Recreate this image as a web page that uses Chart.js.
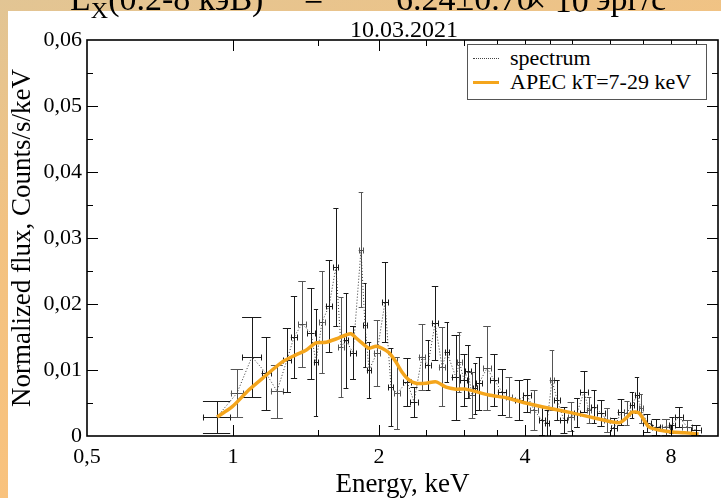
<!DOCTYPE html>
<html>
<head>
<meta charset="utf-8">
<script src="https://cdn.jsdelivr.net/npm/chart.js@4.4.1/dist/chart.umd.min.js"></script>
<style>
  html, body { margin: 0; padding: 0; }
  body {
    width: 721px; height: 498px; overflow: hidden; position: relative;
    background: linear-gradient(165deg, #e2c594 0%, #f3c281 35%, #fdc27a 100%);
    font-family: 'Liberation Serif', 'DejaVu Serif', serif;
  }
  #panel { position: absolute; left: 8px; top: 11px; right: 0; bottom: 0; background: #fff; }
  #chart { position: absolute; left: 0; top: 0; }
  .head { position: absolute; font-size: 34px; line-height: 1; color: #000; white-space: nowrap; top: -18px; }
  #date { position: absolute; left: 0; width: 808px; text-align: center; top: 17px; font-size: 24px; line-height: 1; }
  #legend {
    position: absolute; left: 467px; top: 44px; width: 238px; height: 54px;
    border: 1px solid #555; background: #fff; font-size: 22px;
  }
  .row { position: absolute; left: 0; right: 0; height: 24px; }
  .row span.txt { position: absolute; left: 42px; top: 0; line-height: 24px; }
  .row span.smp { position: absolute; left: 5px; width: 26px; top: 12px; }
</style>
</head>
<body>
<div id="panel"></div>
<canvas id="chart" width="721" height="498"></canvas>
<div class="head" style="left:70px">L<sub style="font-size:24px">X</sub>(0.2-8 кэВ)</div>
<div class="head" style="left:304px">=</div>
<div class="head" style="left:396px">6.24±0.70</div>
<div class="head" style="left:527px">× 10<sup style="font-size:22px">31</sup></div>
<div class="head" style="left:596px">эрг/с</div>
<div id="date">10.03.2021</div>
<div id="legend">
  <div class="row" style="top:1px"><span class="smp" style="border-top:1px dotted #444"></span><span class="txt">spectrum</span></div>
  <div class="row" style="top:25px"><span class="smp" style="border-top:3px solid #f4a51c;top:11px"></span><span class="txt">APEC kT=7-29 keV</span></div>
</div>
<script>
// Spectrum bins (keV, half width, counts/s/keV, error)
const energy = [0.927, 1.019, 1.094, 1.170, 1.232, 1.292, 1.336, 1.388, 1.448, 1.483,
  1.526, 1.578, 1.630, 1.670, 1.710, 1.768, 1.836, 1.871, 1.908, 1.981,
  2.058, 2.117, 2.178, 2.285, 2.362, 2.453, 2.524, 2.610, 2.698, 2.76,
  2.882, 2.93, 2.994, 3.05, 3.110, 3.16, 3.216, 3.340, 3.453, 3.586,
  3.707, 3.888, 4.039, 4.175, 4.336, 4.440, 4.547, 4.656, 4.813, 4.976,
  5.120, 5.293, 5.420, 5.551, 5.739, 5.905, 6.105, 6.311, 6.493, 6.649,
  6.808, 6.939, 7.140, 7.450, 7.812, 8.04, 8.31, 8.63, 9.01]
const energyErr = [0.06, 0.03, 0.05, 0.025, 0.035, 0.025, 0.02, 0.025, 0.025, 0.015,
  0.02, 0.025, 0.02, 0.02, 0.02, 0.025, 0.02, 0.015, 0.02, 0.03,
  0.03, 0.025, 0.03, 0.04, 0.04, 0.04, 0.03, 0.04, 0.04, 0.03,
  0.06, 0.03, 0.05, 0.04, 0.05, 0.03, 0.05, 0.06, 0.06, 0.07,
  0.06, 0.08, 0.07, 0.07, 0.06, 0.05, 0.05, 0.06, 0.08, 0.08,
  0.07, 0.09, 0.06, 0.07, 0.10, 0.08, 0.10, 0.10, 0.08, 0.07,
  0.07, 0.06, 0.12, 0.15, 0.15, 0.10, 0.15, 0.20, 0.20]
const flux = [0.0029, 0.0065, 0.0120, 0.0095, 0.0068, 0.0115, 0.0150, 0.0170, 0.0156, 0.0112,
  0.0173, 0.0197, 0.0256, 0.0135, 0.0145, 0.0126, 0.0282, 0.0168, 0.0100, 0.0126,
  0.0203, 0.0074, 0.0065, 0.0082, 0.0052, 0.0120, 0.0108, 0.0171, 0.0105, 0.0127,
  0.0089, 0.0112, 0.0085, 0.0098, 0.0062, 0.0072, 0.0080, 0.0103, 0.0085, 0.0067,
  0.0059, 0.0055, 0.0062, 0.0039, 0.0024, 0.0020, 0.0085, 0.0055, 0.0024, 0.0029,
  0.0035, 0.0067, 0.0039, 0.0044, 0.0035, 0.0024, 0.0012, 0.0036, 0.0035, 0.0047,
  0.0062, 0.0042, 0.0020, 0.0014, 0.0014, 0.0017, 0.0029, 0.0014, 0.0009]
const fluxErr = [0.0024, 0.0036, 0.0061, 0.0055, 0.0040, 0.0048, 0.0062, 0.0065, 0.0069, 0.0081,
  0.0077, 0.0069, 0.0089, 0.0076, 0.0072, 0.0040, 0.0087, 0.0064, 0.0042, 0.0050,
  0.0061, 0.0059, 0.0055, 0.0036, 0.0023, 0.0050, 0.0038, 0.0056, 0.0060, 0.0045,
  0.0064, 0.0045, 0.0040, 0.0040, 0.0035, 0.0038, 0.0040, 0.0064, 0.0040, 0.0035,
  0.0030, 0.0030, 0.0025, 0.0030, 0.0022, 0.0020, 0.0046, 0.0030, 0.0020, 0.0022,
  0.0022, 0.0031, 0.0020, 0.0025, 0.0020, 0.0018, 0.0015, 0.0020, 0.0018, 0.0020,
  0.0027, 0.0022, 0.0014, 0.0012, 0.0012, 0.0012, 0.0015, 0.0010, 0.0008]

// APEC model curve
const modelEnergy = [0.927, 0.995, 1.079, 1.170, 1.262, 1.348, 1.414, 1.483, 1.555, 1.630,
  1.710, 1.750, 1.785, 1.844, 1.908, 1.972, 2.029, 2.098, 2.168, 2.230,
  2.305, 2.384, 2.500, 2.623, 2.750, 2.882, 3.020, 3.370, 3.655, 4.012,
  4.488, 5.00, 5.59, 6.25, 6.46, 6.65, 6.87, 7.20, 7.55, 8.04, 8.55, 9.12]
const modelFlux = [0.0029, 0.0044, 0.0070, 0.0092, 0.0112, 0.0123, 0.0130, 0.0141, 0.0142, 0.0147,
  0.0153, 0.0155, 0.0150, 0.0141, 0.0133, 0.0136, 0.0133, 0.0126, 0.0112, 0.0097,
  0.0085, 0.0080, 0.0080, 0.0082, 0.0074, 0.0071, 0.0071, 0.0062, 0.0058, 0.0050,
  0.0042, 0.0035, 0.0027, 0.0020, 0.0027, 0.0036, 0.0035, 0.0014, 0.0009, 0.0006, 0.0005, 0.0003]

// Axes
const xTickLabels = [0.5, 1, 2, 4, 8]
const xMinorTicks = [1.5, 2.5, 3, 3.5, 4.5, 5, 6, 7, 9]
const yTickLabels = [0, 0.01, 0.02, 0.03, 0.04, 0.05, 0.06]
const yMinorTicks = [0.005, 0.015, 0.025, 0.035, 0.045, 0.055]

const serif = 'Liberation Serif'

// Error bars drawn under the lines
const errorBars = {
  id: 'errorBars',
  beforeDatasetsDraw(chart) {
    const { ctx, chartArea, scales: { x, y } } = chart
    ctx.save()
    ctx.beginPath()
    ctx.rect(chartArea.left, chartArea.top, chartArea.right - chartArea.left, chartArea.bottom - chartArea.top)
    ctx.clip()
    ctx.lineWidth = 1
    energy.forEach((e, i) => {
      const x0 = x.getPixelForValue(e - energyErr[i])
      const x1 = x.getPixelForValue(e + energyErr[i])
      const xc = Math.round(x.getPixelForValue(e)) + 0.5
      const yc = Math.round(y.getPixelForValue(flux[i])) + 0.5
      const yt = Math.round(y.getPixelForValue(flux[i] + fluxErr[i])) + 0.5
      const yb = Math.round(y.getPixelForValue(flux[i] - fluxErr[i])) + 0.5
      ctx.strokeStyle = i % 3 === 1 ? '#555' : '#1a1a1a'
      ctx.beginPath()
      // vertical bar with caps
      ctx.moveTo(xc, yt); ctx.lineTo(xc, yb)
      ctx.moveTo(x0, yt); ctx.lineTo(x1, yt)
      ctx.moveTo(x0, yb); ctx.lineTo(x1, yb)
      // horizontal bar with end ticks
      ctx.moveTo(x0, yc); ctx.lineTo(x1, yc)
      ctx.moveTo(Math.round(x0) + 0.5, yc - 3); ctx.lineTo(Math.round(x0) + 0.5, yc + 3)
      ctx.moveTo(Math.round(x1) + 0.5, yc - 3); ctx.lineTo(Math.round(x1) + 0.5, yc + 3)
      ctx.stroke()
    })
    ctx.restore()
  }
}

// Inward ticks on all four sides and the frame
const frameTicks = {
  id: 'frameTicks',
  afterDraw(chart) {
    const { ctx, chartArea: { left, right, top, bottom }, scales: { x, y } } = chart
    ctx.save()
    ctx.strokeStyle = '#000'
    ctx.lineWidth = 1
    const seg = (a, b, c, d) => { ctx.beginPath(); ctx.moveTo(a, b); ctx.lineTo(c, d); ctx.stroke() }
    const xTick = (v, len) => {
      const px = Math.round(x.getPixelForValue(v)) + 0.5
      seg(px, bottom, px, bottom - len)
      seg(px, top, px, top + len)
    }
    const yTick = (v, len) => {
      const py = Math.round(y.getPixelForValue(v)) + 0.5
      seg(left, py, left + len, py)
      seg(right, py, right - len, py)
    }
    xTickLabels.slice(1).forEach(v => xTick(v, 11))
    xMinorTicks.forEach(v => xTick(v, 6))
    yTickLabels.slice(1, -1).forEach(v => yTick(v, 11))
    yMinorTicks.forEach(v => yTick(v, 6))
    ctx.lineWidth = 1.6
    ctx.strokeRect(left, top, right - left, bottom - top)
    ctx.restore()
  }
}

new Chart(document.getElementById('chart'), {
  type: 'line',
  data: {
    datasets: [
      {
        label: 'spectrum',
        data: energy.map((e, i) => ({ x: e, y: flux[i] })),
        borderColor: '#333',
        borderWidth: 1,
        borderDash: [1, 2],
        pointRadius: 0,
        order: 2
      },
      {
        label: 'APEC kT=7-29 keV',
        data: modelEnergy.map((e, i) => ({ x: e, y: modelFlux[i] })),
        borderColor: '#f4a51c',
        borderWidth: 3.5,
        pointRadius: 0,
        tension: 0.25,
        order: 1
      }
    ]
  },
  options: {
    responsive: false,
    animation: false,
    devicePixelRatio: 1,
    layout: { padding: { top: 40, right: 3, left: 0, bottom: 0 } },
    plugins: { legend: { display: false }, tooltip: { enabled: false } },
    scales: {
      x: {
        type: 'logarithmic',
        min: 0.5,
        max: 10,
        grid: { display: false, drawTicks: false },
        border: { display: false },
        afterBuildTicks: (scale) => { scale.ticks = xTickLabels.map(v => ({ value: v })) },
        afterFit: (scale) => { scale.height = 62 },
        ticks: {
          autoSkip: false,
          maxRotation: 0,
          padding: 8,
          color: '#000',
          font: { family: serif, size: 22 },
          callback: (v) => String(v).replace('.', ',')
        },
        title: {
          display: true,
          text: 'Energy, keV',
          color: '#000',
          font: { family: serif, size: 27, lineHeight: 1 },
          padding: { top: 0, bottom: 0 }
        }
      },
      y: {
        min: 0,
        max: 0.06,
        grid: { display: false, drawTicks: false },
        border: { display: false },
        afterBuildTicks: (scale) => { scale.ticks = yTickLabels.map(v => ({ value: v })) },
        afterFit: (scale) => { scale.width = 87 },
        ticks: {
          padding: 5,
          color: '#000',
          font: { family: serif, size: 22 },
          callback: (v) => v === 0 ? '0' : v.toFixed(2).replace('.', ',')
        },
        title: {
          display: true,
          text: 'Normalized flux, Counts/s/keV',
          color: '#000',
          font: { family: serif, size: 27 },
          padding: { top: 7, bottom: 0 }
        }
      }
    }
  },
  plugins: [errorBars, frameTicks]
})
</script>
</body>
</html>
